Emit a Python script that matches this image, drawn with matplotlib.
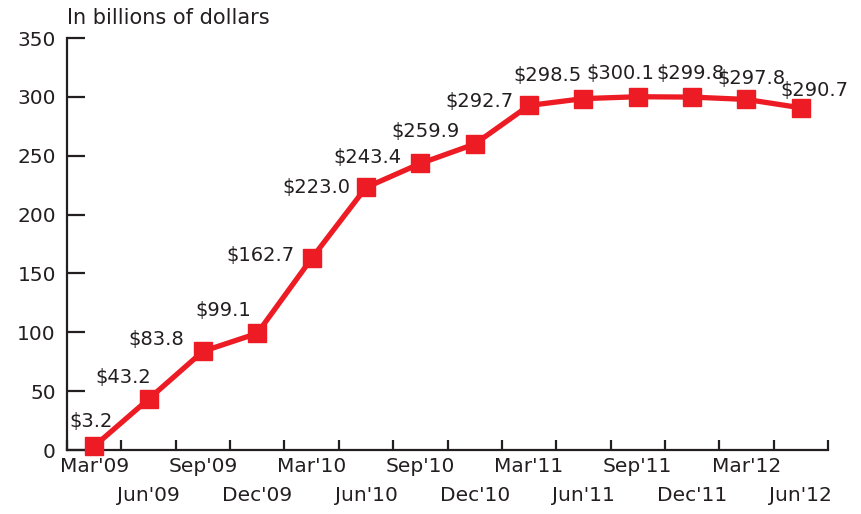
import numpy as np
import matplotlib
matplotlib.use('Agg')
import matplotlib.pyplot as plt

quarters = ["Mar'09", "Jun'09", "Sep'09", "Dec'09", "Mar'10", "Jun'10", "Sep'10",
            "Dec'10", "Mar'11", "Jun'11", "Sep'11", "Dec'11", "Mar'12", "Jun'12"]
values = [3.2, 43.2, 83.8, 99.1, 162.7, 223.0, 243.4,
          259.9, 292.7, 298.5, 300.1, 299.8, 297.8, 290.7]
yticks = [0, 50, 100, 150, 200, 250, 300, 350]

# label offsets in pixels (dx, dy) relative to each point, label centre
label_offsets = [(-3, 25), (-25, 22), (-47, 12), (-34, 23), (-51, 3), (-50, 0), (-53, 6),
                 (-49, 13), (-50, 4), (-36, 23), (-17, 23), (-2, 24), (5, 21), (14, 17)]

red = '#ED1C24'
ink = '#231F20'
plt.rcParams['font.family'] = ['DejaVu Sans']
plt.rcParams['font.size'] = 14.5

fig = plt.figure(figsize=(8.61, 5.14), dpi=100)
ax = fig.add_axes([67/861, 64/514, (828-67)/861, (450-38)/514])

x = np.arange(len(values))
ax.plot(x, values, color=red, lw=3.8, marker='s', ms=12.5, clip_on=False, zorder=3)

for xi, v, (dx, dy) in zip(x, values, label_offsets):
    ax.annotate('$%.1f' % v, (xi, v), xytext=(dx * 0.72, dy * 0.72), textcoords='offset points',
                ha='center', va='center', fontsize=14, color=ink)

ax.set_xlim(-0.5, len(values) - 0.5)
ax.set_ylim(0, 350)
ax.set_yticks(yticks)
ax.set_xticks(x)
ax.set_xticklabels(quarters)
ax.set_xticks(np.arange(len(values) + 1) - 0.5, minor=True)

for s in ['top', 'right']:
    ax.spines[s].set_visible(False)
for s in ['left', 'bottom']:
    ax.spines[s].set_linewidth(1.6)
    ax.spines[s].set_color(ink)

ax.tick_params(axis='y', direction='in', length=13, width=1.6, pad=8, colors=ink)
ax.tick_params(axis='x', which='major', length=0, pad=5, colors=ink)
ax.tick_params(axis='x', which='minor', direction='in', length=7, width=1.6, color=ink)
for t in ax.xaxis.get_major_ticks()[1::2]:
    t.set_pad(26)

fig.text(67/861, 1 - 18/514, 'In billions of dollars', ha='left', va='center', fontsize=15,
         color=ink)

fig.savefig('out.png', dpi=100)
